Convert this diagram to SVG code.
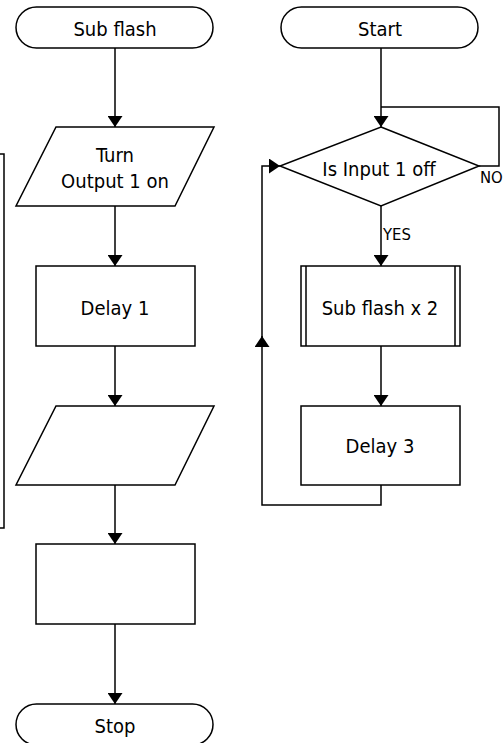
<svg xmlns="http://www.w3.org/2000/svg" width="504" height="743" viewBox="0 0 504 743">
<style>
.s{fill:#fff;stroke:#000;stroke-width:1.5}
.c{fill:none;stroke:#000;stroke-width:1.5}
text{font-family:"DejaVu Sans Condensed","DejaVu Sans",sans-serif;font-stretch:condensed;font-size:20px;fill:#000;text-anchor:middle}
.lbl{font-size:16.5px;text-anchor:start}
</style>
<defs>
<marker id="ah" markerUnits="userSpaceOnUse" markerWidth="11" markerHeight="15" refX="11" refY="7.5" orient="auto">
<path d="M0,0 L11,7.5 L0,15 z" fill="#000"/>
</marker>
</defs>
<g id="connectors">
<path class="c" d="M115,48 V127" marker-end="url(#ah)"/>
<path class="c" d="M115,206 V266" marker-end="url(#ah)"/>
<path class="c" d="M115,346 V406" marker-end="url(#ah)"/>
<path class="c" d="M115,485 V544" marker-end="url(#ah)"/>
<path class="c" d="M115,624 V704" marker-end="url(#ah)"/>
<path class="c" d="M0,154 H4 V528 H0"/>
<path class="c" d="M381,48 V127" marker-end="url(#ah)"/>
<path class="c" d="M479,166 H499 V107 H381"/>
<path class="c" d="M381,206 V266" marker-end="url(#ah)"/>
<path class="c" d="M381,346 V406" marker-end="url(#ah)"/>
<path class="c" d="M381,485 V505 H262 V336" marker-end="url(#ah)"/>
<path class="c" d="M262,340 V166 H280" marker-end="url(#ah)"/>
<text class="lbl" x="480" y="183">NO</text>
<text class="lbl" x="383" y="240">YES</text>
</g>
<g id="sub-flash">
<rect class="s" x="16" y="7" width="197" height="41" rx="20.5"/>
<text x="115" y="36">Sub flash</text>
</g>
<g id="turn-output-on">
<polygon class="s" points="56,127 214,127 175,206 16,206"/>
<text x="115" y="162">Turn</text>
<text x="115" y="188">Output 1 on</text>
</g>
<g id="delay-1">
<rect class="s" x="36" y="266" width="159" height="80"/>
<text x="115" y="315">Delay 1</text>
</g>
<g id="output-blank">
<polygon class="s" points="56,406 214,406 175,485 16,485"/>
</g>
<g id="process-blank">
<rect class="s" x="36" y="544" width="159" height="80"/>
</g>
<g id="stop">
<rect class="s" x="16" y="704" width="197" height="41" rx="20.5"/>
<text x="115" y="733">Stop</text>
</g>
<g id="start">
<rect class="s" x="281" y="7" width="197" height="41" rx="20.5"/>
<text x="380" y="36">Start</text>
</g>
<g id="decision">
<polygon class="s" points="381,127 479,166 381,206 280,166"/>
<text x="379" y="176">Is Input 1 off</text>
</g>
<g id="sub-flash-x2">
<rect class="s" x="301" y="266" width="159" height="80"/>
<path class="c" d="M306,266 V346 M455,266 V346"/>
<text x="380" y="315">Sub flash x 2</text>
</g>
<g id="delay-3">
<rect class="s" x="301" y="406" width="159" height="79"/>
<text x="380" y="453">Delay 3</text>
</g>
</svg>
